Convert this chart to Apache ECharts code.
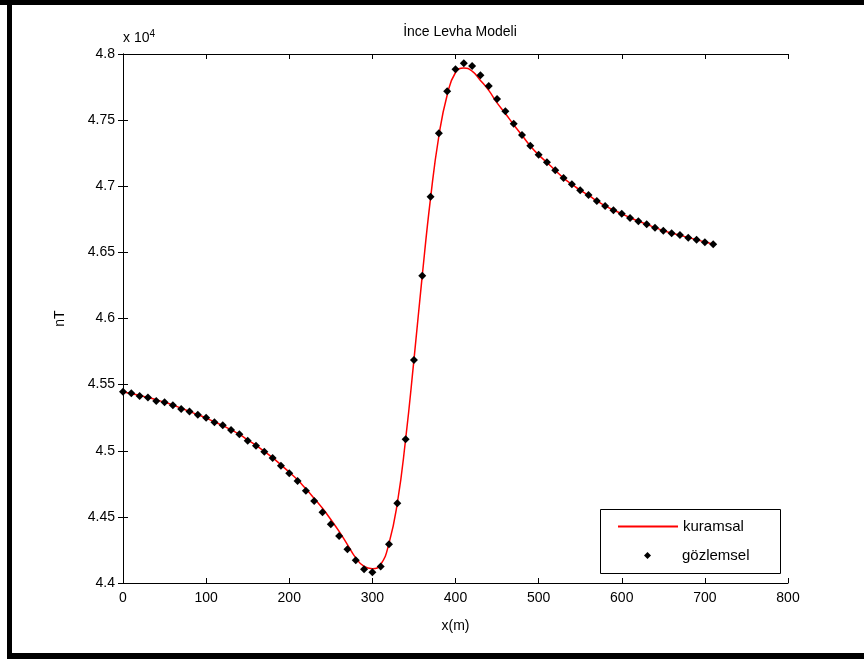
<!DOCTYPE html>
<html>
<head>
<meta charset="utf-8">
<script src="https://cdn.jsdelivr.net/npm/echarts@6/dist/echarts.min.js"></script>
<style>
html,body{margin:0;padding:0;background:#fff;}
#chart{width:864px;height:659px;}
</style>
</head>
<body>
<div id="chart"></div>
<script>
// x positions (m)
var xObs = [0,10,20,30,40,50,60,70,80,90,100,110,120,130,140,150,160,170,180,190,200,210,220,230,240,250,260,270,280,290,300,310,320,330,340,350,360,370,380,390,400,410,420,430,440,450,460,470,480,490,500,510,520,530,540,550,560,570,580,590,600,610,620,630,640,650,660,670,680,690,700,710];
// observed (gözlemsel), units of 10^4 nT
var yObs = [4.5447,4.5434,4.5414,4.5402,4.5377,4.5367,4.5344,4.5316,4.5296,4.5273,4.5250,4.5216,4.5193,4.5157,4.5125,4.5076,4.5038,4.4993,4.4945,4.4887,4.4830,4.4772,4.4698,4.4620,4.4535,4.4444,4.4356,4.4255,4.4172,4.4104,4.4081,4.4124,4.4293,4.4603,4.5087,4.5687,4.6324,4.6921,4.7400,4.7718,4.7884,4.7930,4.7909,4.7839,4.7758,4.7660,4.7567,4.7473,4.7388,4.7307,4.7239,4.7181,4.7121,4.7062,4.7015,4.6969,4.6934,4.6888,4.6851,4.6818,4.6793,4.6760,4.6735,4.6712,4.6687,4.6664,4.6644,4.6631,4.6611,4.6596,4.6576,4.6561];
// theoretical (kuramsal), units of 10^4 nT
var yTheo = [4.5445,4.5433,4.5418,4.5402,4.5385,4.5367,4.5346,4.5322,4.5298,4.5273,4.5247,4.5218,4.5190,4.5158,4.5124,4.5082,4.5040,4.4995,4.4948,4.4893,4.4838,4.4780,4.4712,4.4640,4.4565,4.4480,4.4390,4.4290,4.4190,4.4125,4.4108,4.4140,4.4300,4.4603,4.5087,4.5687,4.6324,4.6910,4.7380,4.7690,4.7860,4.7895,4.7870,4.7800,4.7725,4.7630,4.7550,4.7465,4.7385,4.7305,4.7237,4.7180,4.7120,4.7062,4.7015,4.6970,4.6932,4.6890,4.6852,4.6820,4.6792,4.6762,4.6736,4.6712,4.6688,4.6665,4.6646,4.6630,4.6612,4.6596,4.6578,4.6562];
var xTicks = [0,100,200,300,400,500,600,700,800];
var yTicks = [4.4,4.45,4.5,4.55,4.6,4.65,4.7,4.75,4.8];

var FONT = 'Liberation Sans';
var theo = xObs.map(function(x,i){return [x,yTheo[i]];});
var obs = xObs.map(function(x,i){return [x,yObs[i]];});

var chart = echarts.init(document.getElementById('chart'), null, {renderer:'canvas'});
var axisCommon = {
  axisLine:{show:true,lineStyle:{color:'#000',width:1}},
  axisTick:{show:true,inside:true,length:5,lineStyle:{color:'#000'}},
  splitLine:{show:false}
};
var legendText = {fontFamily:FONT,fontSize:15,color:'#000'};
var option = {
  backgroundColor:'#fff',
  animation:false,
  title:{text:'İnce Levha Modeli',left:455,top:20,textAlign:'center',
    textStyle:{fontFamily:FONT,fontSize:14,fontWeight:'normal',color:'#000'}},
  grid:{left:123,right:76,top:54,bottom:76,containLabel:false},
  xAxis:[
    Object.assign({type:'value',position:'bottom',min:xTicks[0],max:xTicks[xTicks.length-1],interval:100,
      axisLabel:{fontFamily:FONT,fontSize:14,color:'#000',margin:8},
      name:'x(m)',nameLocation:'middle',nameGap:36,nameTextStyle:{fontFamily:FONT,fontSize:14,color:'#000'}},axisCommon),
    Object.assign({type:'value',position:'top',min:0,max:800,interval:100,axisLabel:{show:false}},axisCommon)
  ],
  yAxis:[
    Object.assign({type:'value',position:'left',min:yTicks[0],max:yTicks[yTicks.length-1],interval:0.05,
      axisLabel:{fontFamily:FONT,fontSize:14,color:'#000',margin:8,formatter:function(v){return String(+v.toFixed(2));}},
      name:'nT',nameLocation:'middle',nameGap:56,nameTextStyle:{fontFamily:FONT,fontSize:14,color:'#000'}},axisCommon),
    Object.assign({type:'value',position:'right',min:4.4,max:4.8,interval:0.05,axisLabel:{show:false}},axisCommon)
  ],
  legend:[
    {left:612,top:514,itemWidth:60,itemHeight:7,textStyle:legendText,
      data:[{name:'kuramsal',itemStyle:{opacity:0}}],z:20},
    {left:639,top:543,itemWidth:7,itemHeight:7,textStyle:Object.assign({padding:[0,0,0,26]},legendText),
      data:[{name:'gözlemsel',icon:'diamond',itemStyle:{opacity:1}}],z:20}
  ],
  series:[
    {name:'kuramsal',type:'line',data:theo,showSymbol:false,symbol:'none',smooth:true,
      lineStyle:{color:'#ff0000',width:1.5},itemStyle:{color:'#ff0000'},z:2},
    {name:'gözlemsel',type:'scatter',data:obs,symbol:'diamond',symbolSize:8,
      itemStyle:{color:'#000',opacity:1},z:3}
  ],
  graphic:[
    {type:'rect',shape:{x:0,y:0,width:864,height:5},style:{fill:'#000'},z:100},
    {type:'rect',shape:{x:7,y:0,width:5,height:659},style:{fill:'#000'},z:100},
    {type:'rect',shape:{x:7,y:653,width:857,height:6},style:{fill:'#000'},z:100},
    {type:'rect',shape:{x:600.5,y:509.5,width:180,height:64},style:{fill:'#fff',stroke:'#000',lineWidth:1},z:10},
    {type:'text',left:123,top:29,style:{text:'x 10{s|4}',fontFamily:FONT,fontSize:14,fill:'#000',
      rich:{s:{fontSize:10,verticalAlign:'top',padding:[0,0,8,0]}}},z:10}
  ]
};
chart.setOption(option);
</script>
</body>
</html>
